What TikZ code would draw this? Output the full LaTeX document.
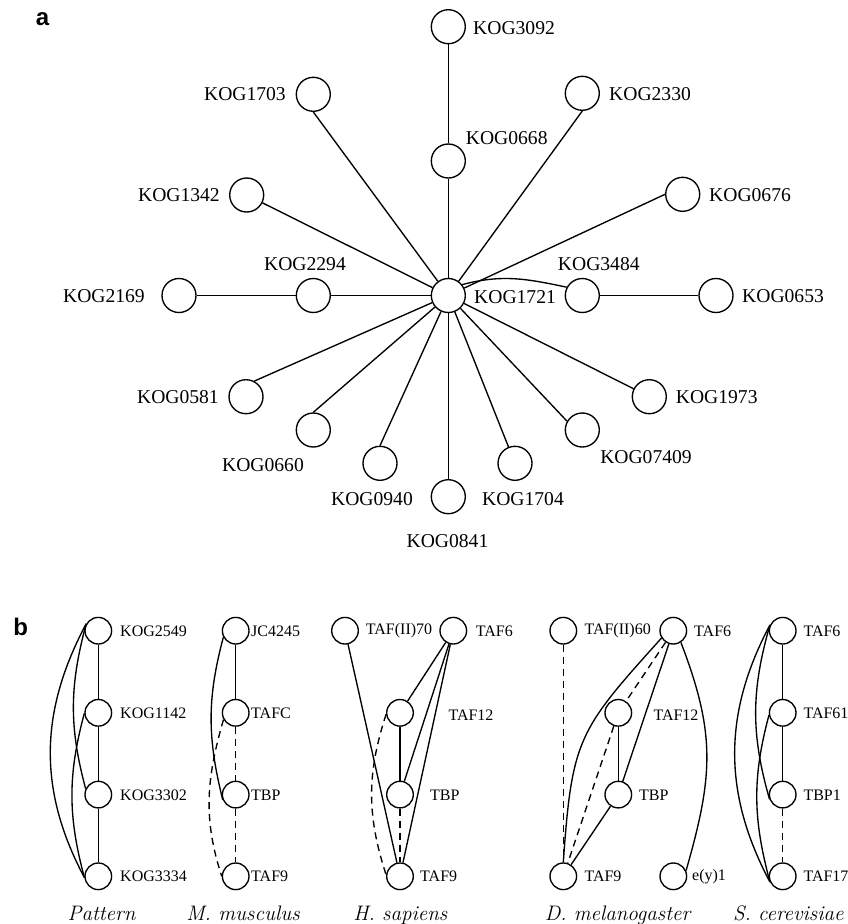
\documentclass[tikz,border=0pt]{standalone}
\usepackage{fontspec}
\newfontfamily\timesf{Liberation Serif}
\newfontfamily\helvf{Liberation Sans}
\begin{document}
\begin{tikzpicture}[x=1pt,y=1pt,
  kog/.style={circle, draw, fill=white, minimum size=34pt, inner sep=0pt, line width=1.35pt},
  prot/.style={circle, draw, fill=white, minimum size=26.6pt, inner sep=0pt, line width=1.35pt},
  lab/.style={font=\timesf\fontsize{19.6}{20}\selectfont, inner sep=0pt},
  slab/.style={font=\timesf\fontsize{16}{17}\selectfont, inner sep=0pt, anchor=west},
  species/.style={font=\fontsize{21}{22}\selectfont\itshape, inner sep=0pt, anchor=base},
  panel/.style={font=\helvf\bfseries\fontsize{24}{24}\selectfont, inner sep=0pt, anchor=base},
  edge/.style={line width=1.35pt},
  dashedge/.style={line width=1.35pt, dash pattern=on 7pt off 5pt}]
\useasboundingbox (0,0) rectangle (847,-924);

% ---------------- panel a: KOG1721 interaction star ----------------
\node[panel] (pa) at (42.5,-25) {a};

\node[kog] (hub)   at (448.3,-295.5) {};
\node[kog] (k3092) at (448.3,-26.7) {};
\node[kog] (k0668) at (448.3,-161) {};
\node[kog] (k2330) at (582.3,-93.3) {};
\node[kog] (k0676) at (682.7,-194.3) {};
\node[kog] (k3484) at (582.3,-295.5) {};
\node[kog] (k0653) at (716,-295.5) {};
\node[kog] (k1703) at (313.3,-94.3) {};
\node[kog] (k1342) at (246.7,-195) {};
\node[kog] (k2294) at (313.3,-295.5) {};
\node[kog] (k2169) at (179,-295.5) {};
\node[kog] (k0581) at (246,-396.7) {};
\node[kog] (k0660) at (313.3,-430) {};
\node[kog] (k0940) at (380,-463.3) {};
\node[kog] (k0841) at (448.3,-496.7) {};
\node[kog] (k1704) at (515,-463.3) {};
\node[kog] (k07409) at (582.3,-430) {};
\node[kog] (k1973) at (649.3,-396.7) {};

\node[lab, anchor=west] (t3092) at (473,-28) {KOG3092};
\node[lab, anchor=west] (t0668) at (465.7,-137.7) {KOG0668};
\node[lab, anchor=west] (t2330) at (609,-94.5) {KOG2330};
\node[lab, anchor=west] (t0676) at (709,-195.5) {KOG0676};
\node[lab] (t3484) at (598.8,-264.3) {KOG3484};
\node[lab, anchor=west] (t0653) at (742,-296.5) {KOG0653};
\node[lab, anchor=west] (t1721) at (474,-297) {KOG1721};
\node[lab, anchor=east] (t1703) at (286,-94.5) {KOG1703};
\node[lab, anchor=east] (t1342) at (220,-195.5) {KOG1342};
\node[lab] (t2294) at (305,-264.3) {KOG2294};
\node[lab, anchor=east] (t2169) at (145,-296.5) {KOG2169};
\node[lab, anchor=east] (t0581) at (219,-397) {KOG0581};
\node[lab] (t0660) at (263,-465) {KOG0660};
\node[lab] (t0940) at (372,-499.3) {KOG0940};
\node[lab] (t0841) at (447.5,-540.7) {KOG0841};
\node[lab] (t1704) at (523,-499.3) {KOG1704};
\node[lab] (t07409) at (646,-456.7) {KOG07409};
\node[lab, anchor=west] (t1973) at (675.7,-397) {KOG1973};

\draw[edge] (k3092) -- (k0668);
\draw[edge] (k0668) -- (hub);
\draw[edge] (hub) -- (k2330.south);
\draw[edge] (hub) -- (k1703.south);
\draw[edge] (hub) -- (k0676.west);
\draw[edge] (hub) -- (k1342);
\draw[edge] (hub) -- (k2294);
\draw[edge] (k2294) -- (k2169);
\draw[edge] (hub.38) to[out=15,in=168] (k3484.152);
\draw[edge] (k3484) -- (k0653);
\draw[edge] (hub) -- (k0581.62);
\draw[edge] (hub) -- (k0660.north);
\draw[edge] (hub) -- (k0940.north);
\draw[edge] (hub) -- (k0841);
\draw[edge] (hub) -- (k1704);
\draw[edge] (hub) -- (k07409.150);
\draw[edge] (hub) -- (k1973);

% ---------------- panel b: pattern and its occurrences ----------------
\node[panel] (pb) at (20.8,-635) {b};

% Pattern
\node[prot] (p1) at (98.3,-630.7) {};
\node[prot] (p2) at (98.3,-712.8) {};
\node[prot] (p3) at (98.3,-794.6) {};
\node[prot] (p4) at (98.3,-876.3) {};
\node[slab] (tp1) at (120,-631) {KOG2549};
\node[slab] (tp2) at (120,-713) {KOG1142};
\node[slab] (tp3) at (120,-795) {KOG3302};
\node[slab] (tp4) at (120,-876.5) {KOG3334};
\draw[edge] (p1) -- (p2);
\draw[edge] (p2) -- (p3);
\draw[edge] (p3) -- (p4);
\draw[edge] (p1.150) to[out=242,in=118] (p4.185);
\draw[edge] (p1.150) to[out=255,in=105] (p3.155);
\draw[edge] (p2.182) to[out=255,in=105] (p4.185);
\node[species] (sp1) at (101.5,-920) {Pattern};

% M. musculus
\node[prot] (m1) at (235.7,-630.7) {};
\node[prot] (m2) at (235.7,-712.8) {};
\node[prot] (m3) at (235.7,-794.6) {};
\node[prot] (m4) at (235.7,-876.3) {};
\node[slab] (tm1) at (251,-631) {JC4245};
\node[slab] (tm2) at (251,-713) {TAFC};
\node[slab] (tm3) at (251,-795) {TBP};
\node[slab] (tm4) at (251,-876.5) {TAF9};
\draw[edge] (m1) -- (m2);
\draw[dashedge] (m2) -- (m3);
\draw[dashedge] (m3) -- (m4);
\draw[edge] (m1.208) to[out=255,in=104] (m3.202);
\draw[dashedge] (m2.209) to[out=254,in=108] (m4.180);
\node[species] (sp2) at (243,-920) {M. musculus};

% H. sapiens
\node[prot] (h70) at (345,-630.7) {};
\node[prot] (h6)  at (453.3,-630.7) {};
\node[prot] (h12) at (400,-712.8) {};
\node[prot] (hbp) at (400,-794.6) {};
\node[prot] (h9)  at (400,-876.3) {};
\node[slab] (th70) at (365.7,-631) {TAF(II)70};
\node[slab] (th6)  at (475.7,-631) {TAF6};
\node[slab] (th12) at (448.3,-715) {TAF12};
\node[slab] (thbp) at (430,-795) {TBP};
\node[slab] (th9)  at (420,-876.5) {TAF9};
\draw[edge] (h70) -- (h9);
\draw[edge] (h6) -- (h12);
\draw[edge] (h6) -- (hbp);
\draw[edge] (h6) -- (h9);
\draw[edge] (h12) -- (hbp);
\draw[dashedge] (hbp) -- (h9);
\draw[dashedge] (h12.186) to[out=252,in=108] (h9.174);
\node[species] (sp3) at (400.3,-920) {H. sapiens};

% D. melanogaster
\node[prot] (d60) at (563.3,-630.7) {};
\node[prot] (d6)  at (673.3,-630.7) {};
\node[prot] (d12) at (618.3,-712.8) {};
\node[prot] (dbp) at (618.3,-794.6) {};
\node[prot] (d9)  at (563.3,-876.3) {};
\node[prot] (dey) at (673.3,-876.3) {};
\node[slab] (td60) at (584.3,-631) {TAF(II)60};
\node[slab] (td6)  at (694,-631) {TAF6};
\node[slab] (td12) at (653.3,-715) {TAF12};
\node[slab] (tdbp) at (639,-795) {TBP};
\node[slab] (td9)  at (584.3,-876.5) {TAF9};
\node[slab] (tdey) at (692,-876.5) {e(y)1};
\draw[dashedge] (d60) -- (d9);
\draw[edge] (d6.212) to[out=228,in=86,looseness=1.3] (d9.north);
\draw[dashedge] (d6) -- (d12);
\draw[dashedge] (d12) -- (d9);
\draw[edge] (d6) -- (dbp);
\draw[edge] (d12) -- (dbp);
\draw[edge] (dbp) -- (d9);
\draw[edge] (d6.-57) to[out=-69,in=74,looseness=1.1] (dey.24);
\node[species] (sp4) at (617.5,-920) {D. melanogaster};

% S. cerevisiae
\node[prot] (s1) at (782.7,-630.7) {};
\node[prot] (s2) at (782.7,-712.8) {};
\node[prot] (s3) at (782.7,-794.6) {};
\node[prot] (s4) at (782.7,-876.3) {};
\node[slab] (ts1) at (803.3,-631) {TAF6};
\node[slab] (ts2) at (803.3,-713) {TAF61};
\node[slab] (ts3) at (803.3,-795) {TBP1};
\node[slab] (ts4) at (803.3,-876.5) {TAF17};
\draw[edge] (s1) -- (s2);
\draw[edge] (s2) -- (s3);
\draw[dashedge] (s3) -- (s4);
\draw[edge] (s1.156) to[out=242,in=118] (s4.204);
\draw[edge] (s1.156) to[out=254,in=106] (s3.200);
\draw[edge] (s2.190) to[out=255,in=105] (s4.204);
\node[species] (sp5) at (788.3,-920) {S. cerevisiae};
\end{tikzpicture}
\end{document}
